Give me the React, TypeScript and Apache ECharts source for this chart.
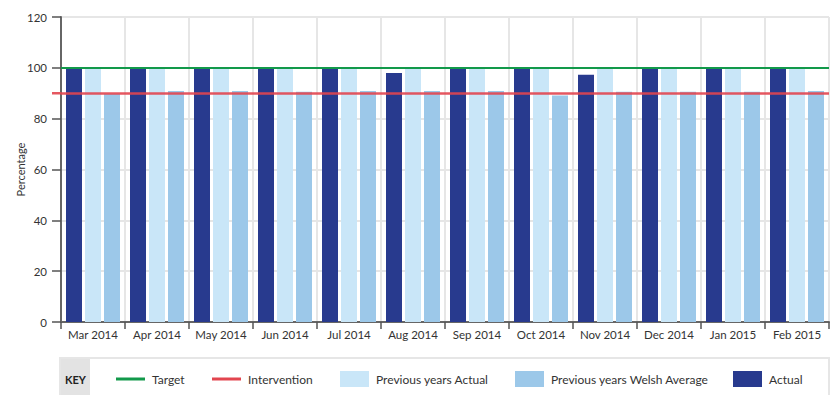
import React, { useEffect, useRef } from "react";
import * as echarts from "echarts";

const categories = ["Mar 2014", "Apr 2014", "May 2014", "Jun 2014", "Jul 2014", "Aug 2014", "Sep 2014", "Oct 2014", "Nov 2014", "Dec 2014", "Jan 2015", "Feb 2015"];
const actual = [100, 100, 100, 100, 100, 98, 100, 100, 97.3, 100, 100, 100];
const prevActual = [100, 100, 100, 100, 100, 100, 100, 100, 100, 100, 100, 100];
const welshAverage = [89.8, 90.9, 90.9, 90.6, 90.9, 90.9, 90.9, 89.1, 90.6, 90.6, 90.6, 90.9];
const targetValue = 100;
const interventionValue = 90;
const yTicks = [0, 20, 40, 60, 80, 100, 120];

const FONT = "Lato, 'Open Sans', sans-serif";
const C_ACTUAL = "#283a8e";
const C_PREV = "#c9e6f8";
const C_WELSH = "#9cc8e9";
const C_GREEN = "#12994a";
const C_RED = "#e2454f";

export default function App() {
  const ref = useRef<HTMLDivElement>(null);
  useEffect(() => {
    if (!ref.current) return;
    const chart = echarts.init(ref.current, undefined, { renderer: "svg" });
    const legendY = 379;
    const legendText = (x: number, text: string) => ({
      type: "text",
      x,
      y: legendY,
      style: { text, fill: "#333", font: `12px ${FONT}`, verticalAlign: "middle" },
      silent: true,
    });
    const legendRect = (x: number, color: string) => ({
      type: "rect",
      shape: { x, y: 371, width: 29, height: 16 },
      style: { fill: color },
      silent: true,
    });
    const legendLine = (x: number, color: string) => ({
      type: "line",
      shape: { x1: x, y1: legendY, x2: x + 29, y2: legendY },
      style: { stroke: color, lineWidth: 3 },
      silent: true,
    });
    chart.setOption({
      animation: false,
      textStyle: { fontFamily: FONT },
      grid: { left: 61, right: 1, top: 17, bottom: 73, containLabel: false },
      xAxis: {
        type: "category",
        data: categories,
        axisLine: { lineStyle: { color: "#666", width: 2 } },
        axisTick: { show: true, interval: 0, length: 7, lineStyle: { color: "#555", width: 1.5 } },
        axisLabel: { color: "#333", fontSize: 11.5, margin: 6, interval: 0, fontFamily: FONT },
        splitLine: { show: true, interval: 0, lineStyle: { color: "#e6e6e6", width: 2 } },
      },
      yAxis: {
        type: "value",
        min: yTicks[0],
        max: yTicks[yTicks.length - 1],
        interval: 20,
        name: "Percentage",
        nameLocation: "middle",
        nameRotate: 90,
        nameGap: 35,
        nameMoveOverlap: false,
        nameTextStyle: { color: "#333", fontSize: 11, fontFamily: FONT },
        axisLine: { show: true, lineStyle: { color: "#666", width: 2 } },
        axisTick: { show: true, length: 9, lineStyle: { color: "#555", width: 1.5 } },
        axisLabel: { color: "#333", fontSize: 11.5, margin: 14, fontFamily: FONT },
        splitLine: { show: true, lineStyle: { color: "#e6e6e6", width: 2 } },
      },
      series: [
        {
          name: "Actual",
          type: "bar",
          data: actual,
          barWidth: 16,
          barGap: "18.75%",
          itemStyle: { color: C_ACTUAL },
          z: 2,
          markLine: {
            silent: true,
            symbol: "none",
            label: { show: false },
            z: 5,
            data: [
              { yAxis: targetValue, lineStyle: { color: C_GREEN, width: 2, type: "solid", opacity: 1 } },
              { yAxis: interventionValue, lineStyle: { color: C_RED, width: 2.5, type: "solid", opacity: 0.9 } },
            ],
          },
        },
        {
          name: "Previous years Actual",
          type: "bar",
          data: prevActual,
          barWidth: 16,
          barGap: "18.75%",
          itemStyle: { color: C_PREV },
          z: 2,
        },
        {
          name: "Previous years Welsh Average",
          type: "bar",
          data: welshAverage,
          barWidth: 16,
          barGap: "18.75%",
          itemStyle: { color: C_WELSH },
          z: 2,
        },
      ],
    });
    const yRed = chart.convertToPixel({ yAxisIndex: 0 }, interventionValue) as number;
    chart.setOption({
      graphic: [
        {
          type: "line",
          shape: { x1: 52, y1: yRed, x2: 61, y2: yRed },
          style: { stroke: C_RED, lineWidth: 2.5, opacity: 0.9 },
          z: 10,
          silent: true,
        },
        {
          type: "rect",
          shape: { x: 60, y: 358, width: 769, height: 45 },
          style: { fill: "#fff", stroke: "#e6e6e6", lineWidth: 2 },
          silent: true,
        },
        {
          type: "rect",
          shape: { x: 61, y: 359, width: 29, height: 40 },
          style: { fill: "#e3e3e3" },
          silent: true,
        },
        {
          type: "text",
          x: 75.5,
          y: legendY,
          style: { text: "KEY", fill: "#222", font: `bold 11px ${FONT}`, align: "center", verticalAlign: "middle" },
          silent: true,
        },
        legendLine(116, C_GREEN),
        legendText(152, "Target"),
        legendLine(212, C_RED),
        legendText(248, "Intervention"),
        legendRect(340, C_PREV),
        legendText(376, "Previous years Actual"),
        legendRect(515, C_WELSH),
        legendText(551, "Previous years Welsh Average"),
        legendRect(733, C_ACTUAL),
        legendText(769, "Actual"),
      ],
    });
    return () => chart.dispose();
  }, []);
  return (
    <div
      ref={ref}
      style={{ position: "absolute", left: 0, top: 0, width: 830, height: 395, background: "#fff" }}
    />
  );
}
